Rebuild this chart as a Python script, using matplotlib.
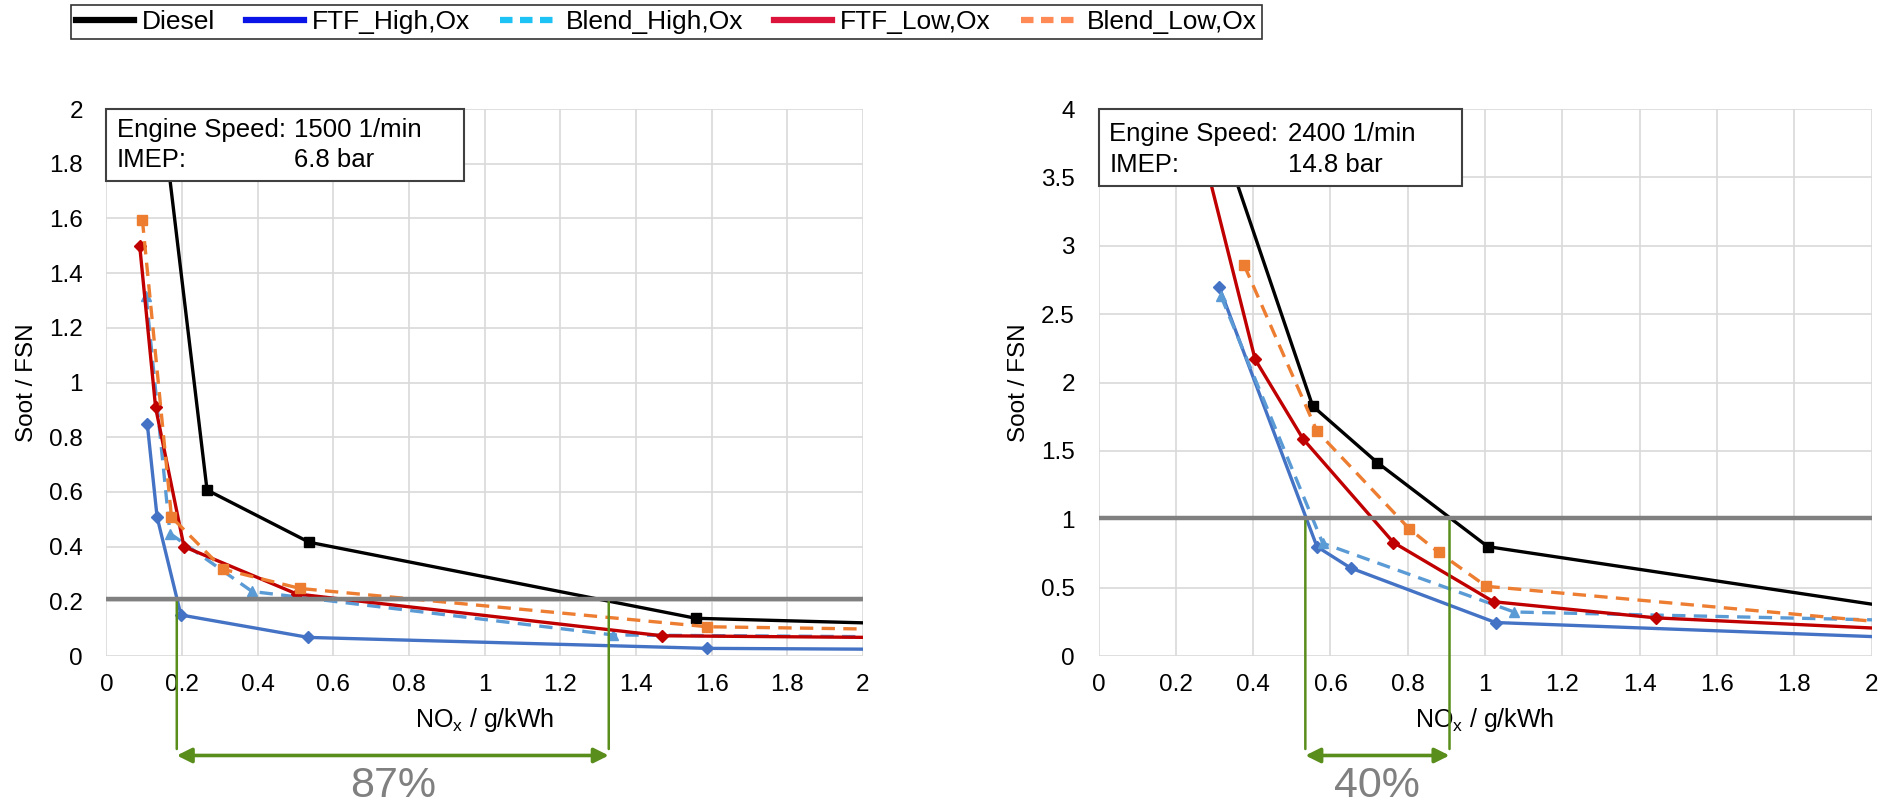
import matplotlib
matplotlib.use("Agg")
import matplotlib.pyplot as plt
from matplotlib.lines import Line2D
from matplotlib.patches import Rectangle
from matplotlib.ticker import FuncFormatter, MultipleLocator

plt.rcParams["font.family"] = ["Liberation Sans", "DejaVu Sans"]

# --- Daten: linkes Diagramm (1500 1/min, 6.8 bar) ---
l_diesel_x = [0.15, 0.266, 0.536, 1.558, 2.3]
l_diesel_y = [1.95, 0.607, 0.416, 0.138, 0.11]
l_ftf_high_x = [0.108, 0.134, 0.197, 0.534, 1.587, 2.3]
l_ftf_high_y = [0.849, 0.508, 0.150, 0.068, 0.028, 0.023]
l_blend_high_x = [0.105, 0.168, 0.385, 1.34, 2.3]
l_blend_high_y = [1.316, 0.448, 0.236, 0.077, 0.068]
l_ftf_low_x = [0.088, 0.130, 0.205, 0.503, 1.469, 2.3]
l_ftf_low_y = [1.50, 0.909, 0.40, 0.227, 0.074, 0.065]
l_blend_low_x = [0.095, 0.172, 0.309, 0.512, 1.589, 2.3]
l_blend_low_y = [1.596, 0.508, 0.317, 0.247, 0.107, 0.093]

# --- Daten: rechtes Diagramm (2400 1/min, 14.8 bar) ---
r_diesel_x = [0.281, 0.554, 0.721, 1.007, 2.4]
r_diesel_y = [4.1, 1.828, 1.415, 0.80, 0.21]
r_ftf_high_x = [0.312, 0.565, 0.652, 1.027, 2.4]
r_ftf_high_y = [2.70, 0.80, 0.644, 0.245, 0.10]
r_blend_high_x = [0.317, 0.58, 1.075, 2.4]
r_blend_high_y = [2.63, 0.825, 0.322, 0.24]
r_ftf_low_x = [0.26, 0.405, 0.529, 0.763, 1.022, 1.442, 2.4]
r_ftf_low_y = [3.8, 2.17, 1.588, 0.83, 0.397, 0.279, 0.152]
r_blend_low_x = [0.377, 0.565, 0.804, 0.880, 1.003, 2.4]
r_blend_low_y = [2.857, 1.645, 0.93, 0.758, 0.51, 0.153]

# Grenzwert (graue Linie), Schnittpunkte und Reduktion
l_limit = 0.207
l_cross = [0.186, 1.328]
l_reduction = "87%"
r_limit = 1.01
r_cross = [0.535, 0.908]
r_reduction = "40%"

l_speed, l_imep = "1500 1/min", "6.8 bar"
r_speed, r_imep = "2400 1/min", "14.8 bar"

series_names = ["Diesel", "FTF_High,Ox", "Blend_High,Ox", "FTF_Low,Ox", "Blend_Low,Ox"]
line_colors = ["black", "#4472C4", "#5B9BD5", "#C00000", "#ED7D31"]
legend_colors = ["black", "#0A14E6", "#1EC3F5", "#DC143C", "#FF8A55"]
line_styles = ["-", "-", "--", "-", "--"]
markers = ["s", "D", "^", "D", "s"]
green = "#5A8E1C"

fig = plt.figure(figsize=(18.97, 8.08), dpi=100)
ax1 = fig.add_axes([0.0561, 0.1881, 0.3988, 0.6769])
ax2 = fig.add_axes([0.5791, 0.1881, 0.4075, 0.6769])


def draw_panel(ax, xs, ys, ymax, ystep, limit, cross, reduction, speed, imep, box):
    for x, y, c, ls, m in zip(xs, ys, line_colors, line_styles, markers):
        ax.plot(x, y, color=c, ls=ls, lw=2.4, marker=m, ms=7.5 if m != "D" else 6.5,
                dashes=(4, 2.5) if ls == "--" else (None, None), zorder=3)
    ax.axhline(limit, color="#808080", lw=3.2, zorder=4)
    ax.set_xlim(0, 2)
    ax.set_ylim(0, ymax)
    ax.xaxis.set_major_locator(MultipleLocator(0.2))
    ax.yaxis.set_major_locator(MultipleLocator(ystep))
    fmt = FuncFormatter(lambda v, p: f"{v:g}")
    ax.xaxis.set_major_formatter(fmt)
    ax.yaxis.set_major_formatter(fmt)
    ax.grid(True, color="#D9D9D9", lw=1.2, zorder=0)
    ax.set_axisbelow(True)
    for s in ax.spines.values():
        s.set_visible(False)
    ax.tick_params(length=0, labelsize=17.5, pad=13)
    ax.tick_params(axis="y", pad=17)
    ax.set_xlabel("NO$_\\mathregular{x}$ / g/kWh", fontsize=18, labelpad=7)
    ax.set_ylabel("Soot / FSN", fontsize=17.5, labelpad=8)

    # Infobox
    ax.add_patch(Rectangle((0, box[0]), box[1], box[2] - box[0], transform=ax.transAxes,
                           facecolor="white", edgecolor="#404040", lw=1.5, zorder=10,
                           clip_on=False))
    ax.text(0.014, box[3], "Engine Speed:", transform=ax.transAxes, fontsize=18.5,
            va="center", zorder=11)
    ax.text(0.014, box[4], "IMEP:", transform=ax.transAxes, fontsize=18.5,
            va="center", zorder=11)
    ax.text(box[5], box[3], speed, transform=ax.transAxes, fontsize=18.5,
            va="center", zorder=11)
    ax.text(box[5], box[4], imep, transform=ax.transAxes, fontsize=18.5,
            va="center", zorder=11)

    # Reduktionspfeil
    arrow_y = 0.065
    for x in cross:
        ax.annotate("", xy=(x, limit), xycoords="data",
                    xytext=(x, arrow_y + 0.008), textcoords=("data", "figure fraction"),
                    arrowprops=dict(arrowstyle="-", color=green, lw=1.8,
                                    shrinkA=0, shrinkB=0))
    ax.annotate("", xy=(cross[0], arrow_y), xycoords=("data", "figure fraction"),
                xytext=(cross[1], arrow_y), textcoords=("data", "figure fraction"),
                arrowprops=dict(arrowstyle="<|-|>", color=green, lw=2.6,
                                mutation_scale=22, shrinkA=0, shrinkB=0),
                annotation_clip=False)
    ax.annotate(reduction, xy=(sum(cross) / 2, 0.003), xycoords=("data", "figure fraction"),
                ha="center", va="bottom", fontsize=31, color="#808080",
                annotation_clip=False)


draw_panel(ax1,
           [l_diesel_x, l_ftf_high_x, l_blend_high_x, l_ftf_low_x, l_blend_low_x],
           [l_diesel_y, l_ftf_high_y, l_blend_high_y, l_ftf_low_y, l_blend_low_y],
           2, 0.2, l_limit, l_cross, l_reduction, l_speed, l_imep,
           (0.869, 0.4725, 1.0, 0.962, 0.907, 0.248))
draw_panel(ax2,
           [r_diesel_x, r_ftf_high_x, r_blend_high_x, r_ftf_low_x, r_blend_low_x],
           [r_diesel_y, r_ftf_high_y, r_blend_high_y, r_ftf_low_y, r_blend_low_y],
           4, 0.5, r_limit, r_cross, r_reduction, r_speed, r_imep,
           (0.86, 0.47, 1.0, 0.954, 0.897, 0.2446))

handles = [Line2D([], [], color=c, ls=ls, lw=4.5, dashes=(2, 1.2) if ls == "--" else (None, None))
           for c, ls in zip(legend_colors, line_styles)]
leg = fig.legend(handles, series_names, loc="upper left", bbox_to_anchor=(0.0373, 0.994),
                 ncol=5, fontsize=19, frameon=True, fancybox=False, edgecolor="black",
                 handlelength=2.2, handletextpad=0.3, columnspacing=1.15, borderpad=0.2,
                 borderaxespad=0)
leg.get_frame().set_linewidth(1.2)

fig.savefig("out.png", dpi=100)
